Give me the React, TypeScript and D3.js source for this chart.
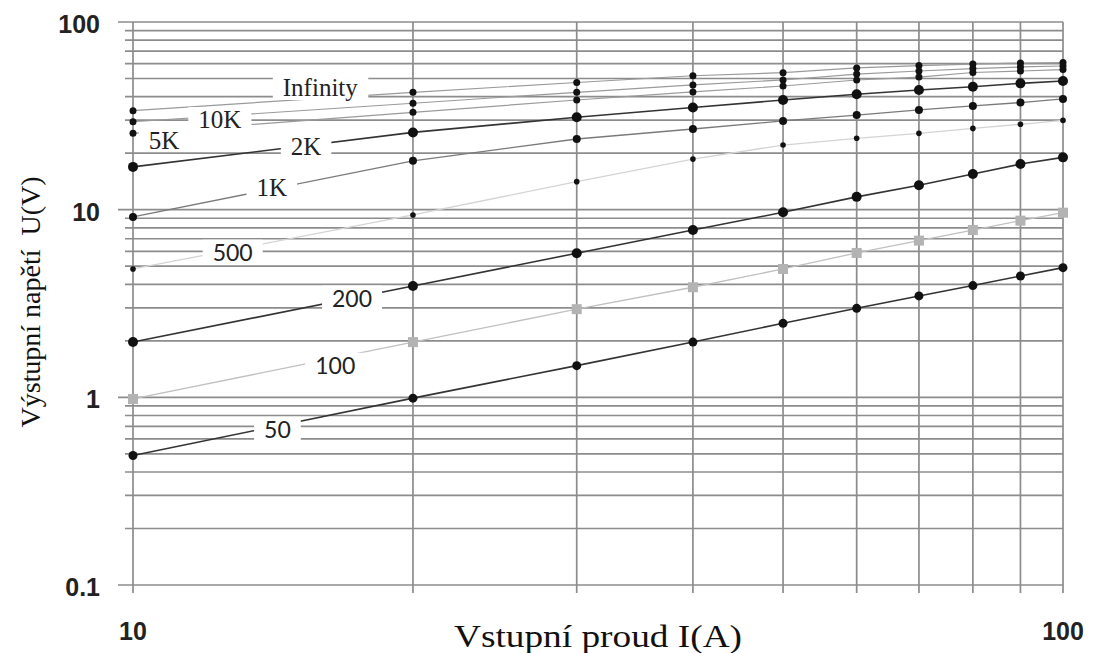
import React, { useEffect, useRef } from 'react';
import * as d3 from 'd3';

// input current (A) at which every load was measured
const currents = [10, 20, 30, 40, 50, 60, 70, 80, 90, 100];

// output voltage (V) for each load resistance
const vInfinity = [33.7, 42.2, 47.6, 51.7, 53.7, 56.9, 58.6, 59.7, 60.4, 60.8];
const v10K = [29.4, 36.9, 42.2, 46.2, 49.1, 52.8, 54.8, 56.5, 57.6, 58.3];
const v5K = [25.5, 33.0, 38.4, 42.4, 45.6, 49.1, 50.9, 53.8, 54.8, 55.8];
const v2K = [16.9, 25.8, 31.1, 35.0, 38.4, 41.2, 43.4, 45.2, 47.1, 48.5];
const v1K = [9.15, 18.2, 23.8, 26.9, 29.7, 31.9, 34.0, 35.7, 37.2, 38.9];
const v500 = [4.83, 9.37, 14.1, 18.6, 22.1, 24.0, 25.5, 27.1, 28.5, 29.9];
const v200 = [1.97, 3.92, 5.86, 7.79, 9.68, 11.7, 13.5, 15.5, 17.5, 19.0];
const v100 = [0.98, 1.97, 2.95, 3.86, 4.83, 5.88, 6.84, 7.79, 8.74, 9.64];
const v50 = [0.49, 0.99, 1.475, 1.97, 2.48, 2.98, 3.47, 3.94, 4.43, 4.91];

const seriesNames = ['Infinity', '10K', '5K', '2K', '1K', '500', '200', '100', '50'];
const seriesValues = [vInfinity, v10K, v5K, v2K, v1K, v500, v200, v100, v50];

const xTicks = [10, 100];
const yTicks = [0.1, 1, 10, 100];

// look of each series (line, marker) and where its label sits, in data units
const styles: Record<string, any> = {
  Infinity: { stroke: '#9a9a9a', sw: 1.2, r: 3.5, label: [15.9, 44.5], serif: true },
  '10K': { stroke: '#9a9a9a', sw: 1.2, r: 3.5, label: [12.4, 30.4], serif: true },
  '5K': { stroke: '#9a9a9a', sw: 1.2, r: 3.5, label: [10.8, 23.5], serif: true },
  '2K': { stroke: '#333', sw: 1.6, r: 5, label: [15.35, 21.8], serif: true },
  '1K': { stroke: '#7a7a7a', sw: 1.3, r: 4, label: [14.1, 13.1], serif: true },
  '500': { stroke: '#d4d4d4', sw: 1.3, r: 2.8, label: [12.8, 5.97], serif: false },
  '200': { stroke: '#333', sw: 1.6, r: 5, label: [17.2, 3.4], serif: false },
  '100': { stroke: '#c0c0c0', sw: 1.3, square: 10, label: [16.5, 1.49], serif: false },
  '50': { stroke: '#333', sw: 1.6, r: 4.5, label: [14.3, 0.676], serif: false },
};

const W = 1093;
const H = 653;
const margin = { top: 22, right: 30, bottom: 68, left: 133 };

const App = () => {
  const svgRef = useRef<SVGSVGElement>(null);

  useEffect(() => {
    const svg = d3.select(svgRef.current);
    svg.selectAll('*').remove();

    const x = d3.scaleLog().domain([10, 100]).range([margin.left, W - margin.right]);
    const y = d3.scaleLog().domain([0.1, 100]).range([H - margin.bottom, margin.top]);

    const gridColor = '#8c8c8c';

    // horizontal grid, one line per minor log step
    const yGrid = [0.1, 1, 10]
      .flatMap((d) => d3.range(1, 10).map((k) => +(d * k).toPrecision(3)))
      .concat([100]);
    svg.append('g')
      .selectAll('line')
      .data(yGrid)
      .enter()
      .append('line')
      .attr('x1', (d) => (yTicks.includes(d) ? x(10) - 15 : x(10) - 8))
      .attr('x2', x(100))
      .attr('y1', (d) => y(d))
      .attr('y2', (d) => y(d))
      .attr('stroke', gridColor)
      .attr('stroke-width', 1.7);

    // vertical grid
    svg.append('g')
      .selectAll('line')
      .data(currents)
      .enter()
      .append('line')
      .attr('x1', (d) => x(d))
      .attr('x2', (d) => x(d))
      .attr('y1', y(100))
      .attr('y2', y(0.1) + 8)
      .attr('stroke', gridColor)
      .attr('stroke-width', 1.7);

    const line = d3
      .line<number>()
      .x((_, i) => x(currents[i]))
      .y((d) => y(d));

    const sg = svg.append('g');
    seriesNames.forEach((name, si) => {
      const st = styles[name];
      sg.append('path')
        .attr('d', line(seriesValues[si]))
        .attr('fill', 'none')
        .attr('stroke', st.stroke)
        .attr('stroke-width', st.sw);
    });
    seriesNames.forEach((name, si) => {
      const st = styles[name];
      const vals = seriesValues[si];
      if (st.square) {
        sg.append('g')
          .selectAll('rect')
          .data(vals)
          .enter()
          .append('rect')
          .attr('x', (_, i) => x(currents[i]) - st.square / 2)
          .attr('y', (d) => y(d) - st.square / 2)
          .attr('width', st.square)
          .attr('height', st.square)
          .attr('fill', '#b3b3b3');
      } else {
        sg.append('g')
          .selectAll('circle')
          .data(vals)
          .enter()
          .append('circle')
          .attr('cx', (_, i) => x(currents[i]))
          .attr('cy', (d) => y(d))
          .attr('r', st.r)
          .attr('fill', '#111');
      }
    });

    // series labels with white boxes
    const lg = svg.append('g');
    seriesNames.forEach((name) => {
      const st = styles[name];
      const cx = x(st.label[0]);
      const cy = y(st.label[1]);
      const g = lg.append('g');
      const rect = g.append('rect').attr('fill', '#fff');
      const t = g
        .append('text')
        .attr('x', cx)
        .attr('y', cy)
        .attr('text-anchor', 'middle')
        .attr('dominant-baseline', 'central')
        .attr('font-family', st.serif ? "'Liberation Serif', 'Times New Roman', serif" : 'Lato, sans-serif')
        .attr('font-size', st.serif ? 25 : 23)
        .attr('fill', '#222')
        .text(name);
      const bb = (t.node() as SVGTextElement).getBBox();
      rect
        .attr('x', bb.x - 10)
        .attr('y', cy - 12)
        .attr('width', bb.width + 20)
        .attr('height', 24);
    });

    // tick labels
    const tickFont = "'Liberation Sans', Arial, sans-serif";
    svg.append('g')
      .selectAll('text')
      .data(yTicks)
      .enter()
      .append('text')
      .attr('x', x(10) - 33)
      .attr('y', (d) => y(d) + 2)
      .attr('text-anchor', 'end')
      .attr('dominant-baseline', 'central')
      .attr('font-family', tickFont)
      .attr('font-weight', 'bold')
      .attr('font-size', 25)
      .attr('fill', '#222')
      .text((d) => String(d));
    svg.append('g')
      .selectAll('text')
      .data(xTicks)
      .enter()
      .append('text')
      .attr('x', (d) => x(d))
      .attr('y', y(0.1) + 46)
      .attr('text-anchor', 'middle')
      .attr('dominant-baseline', 'central')
      .attr('font-family', tickFont)
      .attr('font-weight', 'bold')
      .attr('font-size', 25)
      .attr('fill', '#222')
      .text((d) => String(d));

    // axis titles
    const titleFont = "'Liberation Serif', 'Times New Roman', serif";
    svg.append('text')
      .attr('x', 598)
      .attr('y', 647)
      .attr('text-anchor', 'middle')
      .attr('font-family', titleFont)
      .attr('font-size', 32)
      .attr('textLength', 288)
      .attr('lengthAdjust', 'spacingAndGlyphs')
      .attr('fill', '#111')
      .text('Vstupní proud I(A)');
    svg.append('text')
      .attr('transform', 'translate(40,302) rotate(-90)')
      .attr('text-anchor', 'middle')
      .attr('font-family', titleFont)
      .attr('font-size', 28)
      .attr('fill', '#111')
      .style('white-space', 'pre')
      .text('Výstupní napětí  U(V)');
  }, []);

  return (
    <svg
      ref={svgRef}
      width={W}
      height={H}
      style={{ position: 'absolute', left: 0, top: 0, background: '#fff' }}
    />
  );
};

export default App;
